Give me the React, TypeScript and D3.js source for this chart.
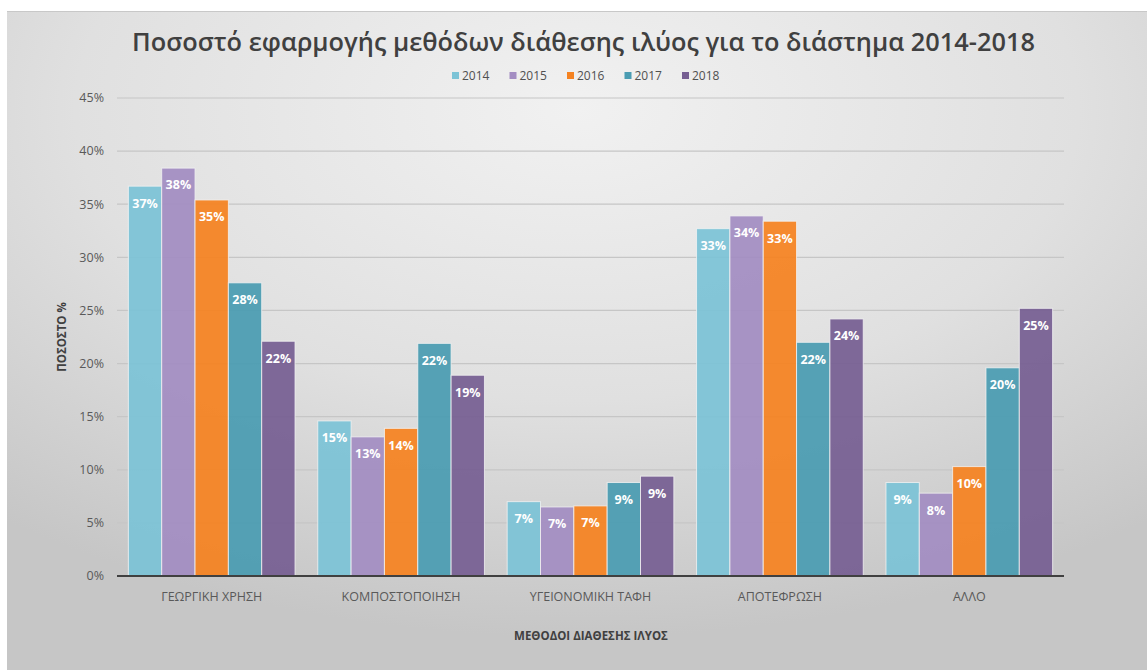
import React from "react";
import * as d3 from "d3";

const categories = ["ΓΕΩΡΓΙΚΗ ΧΡΗΣΗ", "ΚΟΜΠΟΣΤΟΠΟΙΗΣΗ", "ΥΓΕΙΟΝΟΜΙΚΗ ΤΑΦΗ", "ΑΠΟΤΕΦΡΩΣΗ", "ΑΛΛΟ"];
const years = ["2014", "2015", "2016", "2017", "2018"];
const values2014 = [36.7, 14.6, 7.0, 32.7, 8.8];
const values2015 = [38.4, 13.1, 6.5, 33.9, 7.8];
const values2016 = [35.4, 13.9, 6.6, 33.4, 10.3];
const values2017 = [27.6, 21.9, 8.8, 22.0, 19.6];
const values2018 = [22.1, 18.9, 9.4, 24.2, 25.2];
const seriesValues = [values2014, values2015, values2016, values2017, values2018];
const colors = ["#7cc3d6", "#a38dc2", "#f58220", "#4a9cb2", "#765f92"];
const yTicks = [0, 5, 10, 15, 20, 25, 30, 35, 40, 45];

const W = 1147;
const H = 670;
const FONT = "'Open Sans', 'DejaVu Sans', sans-serif";

export default function App() {
  const margin = { left: 117, right: 83, top: 98, bottom: 94 };
  const x0 = d3
    .scaleBand<string>()
    .domain(categories)
    .range([margin.left, W - margin.right])
    .paddingInner(0.12)
    .paddingOuter(0.06);
  const x1 = d3.scaleBand<string>().domain(years).range([0, x0.bandwidth()]).padding(0);
  const y = d3.scaleLinear().domain([0, 45]).range([H - margin.bottom, margin.top]);

  return (
    <div style={{ position: "absolute", left: 0, top: 0 }}>
      <svg width={W} height={H} style={{ display: "block" }}>
        <defs>
          <radialGradient id="bg" cx="50%" cy="15%" r="80%" fx="50%" fy="15%">
            <stop offset="0%" stopColor="#f1f1f1" />
            <stop offset="55%" stopColor="#e0e0e0" />
            <stop offset="100%" stopColor="#c6c6c6" />
          </radialGradient>
        </defs>
        <rect x={0} y={0} width={W} height={H} fill="#ffffff" />
        <rect x={7} y={11} width={W - 7} height={H - 11} fill="url(#bg)" />
        <line x1={7} x2={W} y1={11.5} y2={11.5} stroke="#c8c8c8" strokeWidth={1} />

        {/* title */}
        <text
          x={583.5}
          y={51}
          textAnchor="middle"
          fontFamily={FONT}
          fontWeight={600}
          fontSize={25}
          fill="#404040"
          textLength={903}
          lengthAdjust="spacingAndGlyphs"
        >
          Ποσοστό εφαρμογής μεθόδων διάθεσης ιλύος για το διάστημα 2014-2018
        </text>

        {/* legend */}
        {years.map((yr, i) => {
          const lx = 452 + i * 57.5;
          return (
            <g key={yr}>
              <rect x={lx} y={72} width={7} height={7} fill={colors[i]} />
              <text x={lx + 10} y={80} fontFamily={FONT} fontSize={12} fill="#505050">
                {yr}
              </text>
            </g>
          );
        })}

        {/* gridlines & y ticks */}
        {yTicks.map((t) => (
          <g key={t}>
            {t > 0 && (
              <line
                x1={margin.left}
                x2={W - margin.right}
                y1={y(t)}
                y2={y(t)}
                stroke="#c6c6c6"
                strokeWidth={1.2}
              />
            )}
            <text
              x={104}
              y={y(t)}
              dy="0.35em"
              textAnchor="end"
              fontFamily={FONT}
              fontSize={12.5}
              fill="#595959"
            >
              {t}%
            </text>
          </g>
        ))}

        {/* bars */}
        {categories.map((cat, ci) => (
          <g key={cat} transform={`translate(${x0(cat)},0)`}>
            {years.map((yr, si) => {
              const v = seriesValues[si][ci];
              const bx = x1(yr)!;
              const bw = x1.bandwidth();
              return (
                <g key={yr}>
                  <rect
                    x={bx}
                    y={y(v)}
                    width={bw}
                    height={y(0) - y(v)}
                    fill={colors[si]}
                    fillOpacity={0.93}
                    stroke="#f2f2f2"
                    strokeOpacity={0.8}
                    strokeWidth={1}
                  />
                  <text
                    x={bx + bw / 2}
                    y={y(v) + 17}
                    dy="0.35em"
                    textAnchor="middle"
                    fontFamily={FONT}
                    fontWeight={700}
                    fontSize={12.5}
                    fill="#ffffff"
                  >
                    {Math.round(v)}%
                  </text>
                </g>
              );
            })}
            <text
              x={x0.bandwidth() / 2}
              y={597}
              dy="0.35em"
              textAnchor="middle"
              fontFamily={FONT}
              fontSize={12.5}
              fill="#595959"
            >
              {cat}
            </text>
          </g>
        ))}

        {/* axis baseline */}
        <line
          x1={margin.left}
          x2={W - margin.right}
          y1={y(0)}
          y2={y(0)}
          stroke="#404040"
          strokeWidth={2}
        />

        {/* axis titles */}
        <text
          x={591}
          y={636}
          dy="0.35em"
          textAnchor="middle"
          fontFamily={FONT}
          fontWeight={700}
          fontSize={11.5}
          fill="#404040"
        >
          ΜΕΘΟΔΟΙ ΔΙΑΘΕΣΗΣ ΙΛΥΟΣ
        </text>
        <text
          transform={`translate(62,337) rotate(-90)`}
          dy="0.35em"
          textAnchor="middle"
          fontFamily={FONT}
          fontWeight={700}
          fontSize={11.5}
          fill="#404040"
        >
          ΠΟΣΟΣΤΟ %
        </text>
      </svg>
    </div>
  );
}
